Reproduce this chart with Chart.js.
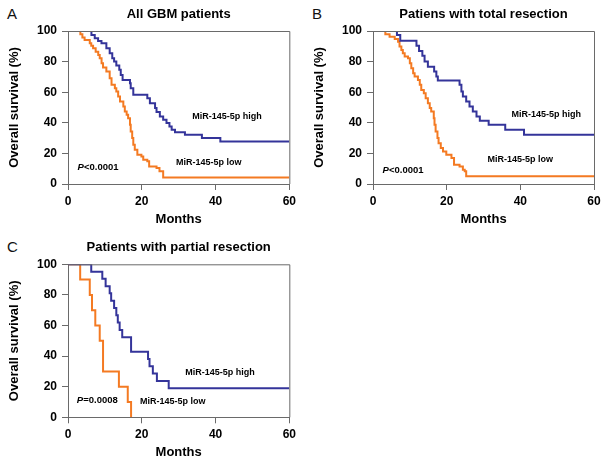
<!DOCTYPE html>
<html><head><meta charset="utf-8">
<script src="https://cdn.jsdelivr.net/npm/chart.js@4/dist/chart.umd.min.js"></script>
<style>
html,body{margin:0;padding:0;background:#fff;}
body{width:606px;height:463px;position:relative;overflow:hidden;font-family:"Liberation Sans",Arial,sans-serif;}
.c{position:absolute;}
.c canvas{display:block;}
.letter{position:absolute;font-size:15px;color:#111;line-height:1;}
</style></head>
<body>
<div class="letter" style="left:7px;top:6px">A</div>
<div class="letter" style="left:312px;top:6px">B</div>
<div class="letter" style="left:7px;top:239px">C</div>
<div class="c" style="left:0;top:0"><canvas id="cA" width="300" height="230"></canvas></div>
<div class="c" style="left:305px;top:0"><canvas id="cB" width="301" height="230"></canvas></div>
<div class="c" style="left:0;top:232px"><canvas id="cC" width="300" height="231"></canvas></div>
<script>
// ---- data ----
const monthTicks = [0, 20, 40, 60];
const survivalTicks = [0, 20, 40, 60, 80, 100];
const seriesNames = ["MiR-145-5p high", "MiR-145-5p low"];
const panelTitles = ["All GBM patients", "Patiens with total resection", "Patients with partial resection"];
const pValues = ["<0.0001", "<0.0001", "=0.0008"];

// Panel A
const aHighMonths = [0, 6.35, 7.25, 8.16, 9.07, 10.4, 11.3, 12.0, 12.5, 13.1, 13.9, 14.3, 14.8, 16.8, 17.0, 17.7, 21.5, 22.2, 23.6, 24.0, 24.9, 25.8, 26.7, 27.5, 28.1, 29.0, 31.7, 36.3, 41.3, 60];
const aHighSurv   = [100, 97.4, 95.2, 93.5, 92.0, 88.7, 85.4, 82.2, 80.0, 77.4, 74.6, 71.3, 68.0, 65.9, 62.6, 58.3, 56.1, 52.8, 49.6, 47.0, 44.1, 42.0, 39.8, 37.6, 35.4, 33.9, 32.2, 30.0, 27.8, 27.8];
const aLowMonths  = [0, 3.35, 3.9, 4.5, 5.9, 6.3, 6.8, 7.5, 8.2, 8.6, 9.1, 9.5, 10.4, 11.3, 11.8, 12.7, 13.1, 13.6, 14.1, 15.0, 15.4, 15.9, 16.3, 16.8, 17.0, 17.4, 17.7, 18.1, 18.8, 19.9, 20.4, 21.5, 22.0, 24.0, 24.8, 25.8, 60];
const aLowSurv    = [100, 97.8, 95.7, 94.1, 92.0, 90.4, 88.7, 86.5, 84.3, 82.2, 78.9, 76.1, 73.5, 69.1, 64.8, 62.6, 60.4, 57.2, 53.9, 50.7, 47.4, 45.2, 43.0, 38.7, 34.3, 30.0, 25.7, 22.4, 19.1, 18.0, 15.9, 14.8, 11.5, 10.4, 8.3, 4.3, 4.3];

// Panel B
const bHighMonths = [0, 6.5, 7.4, 11.8, 12.5, 13.4, 14.0, 14.9, 16.6, 17.2, 17.6, 23.5, 24.0, 24.4, 25.3, 26.2, 27.1, 28.1, 29.0, 31.4, 35.9, 41.0, 60];
const bHighSurv   = [100, 97.4, 93.7, 90.4, 87.0, 83.9, 80.0, 76.7, 73.5, 70.2, 67.6, 64.8, 60.4, 57.2, 53.9, 50.7, 47.4, 44.1, 41.3, 38.7, 35.4, 32.2, 32.2];
const bLowMonths  = [0, 3.35, 4.5, 5.9, 6.8, 7.2, 7.7, 8.1, 8.6, 9.5, 10.0, 10.4, 10.9, 11.3, 12.2, 12.7, 13.1, 13.8, 14.3, 14.9, 15.4, 15.8, 16.5, 16.7, 17.0, 17.5, 17.8, 18.4, 19.0, 19.9, 21.3, 22.0, 23.5, 24.4, 24.9, 25.3, 60];
const bLowSurv    = [100, 97.8, 96.3, 94.8, 93.0, 89.8, 87.6, 85.4, 83.3, 82.2, 78.9, 75.7, 72.4, 70.2, 68.0, 64.8, 61.5, 59.3, 56.1, 52.8, 49.6, 47.4, 43.0, 38.7, 34.3, 30.0, 26.7, 23.5, 21.3, 19.1, 17.0, 12.6, 11.5, 9.3, 8.3, 5.0, 5.0];

// Panel C
const cHighMonths = [0, 6.3, 9.3, 10.2, 11.3, 11.7, 12.5, 13.1, 13.5, 14.0, 14.7, 17.1, 21.7, 22.1, 23.0, 24.1, 27.3, 60];
const cHighSurv   = [100, 95.2, 90.5, 85.7, 81.0, 76.2, 71.4, 66.7, 61.9, 57.1, 52.4, 42.9, 38.1, 33.3, 28.6, 23.8, 19.0, 19.0];
const cLowMonths  = [0, 3.3, 5.9, 6.5, 7.4, 8.6, 9.5, 13.8, 16.2, 17.1];
const cLowSurv    = [100, 90, 80, 70, 60, 50, 30, 20, 10, 0];

// ---- drawing ----
const BLUE = '#34349a', ORANGE = '#f47a22', AXIS = '#6a6a6a';
const FONT = '"Liberation Sans", Arial, sans-serif';

const frameAndNotes = {
  id: 'frameAndNotes',
  afterDatasetsDraw(chart, args, opts) {
    const {ctx, chartArea: a, scales: {x, y}} = chart;
    ctx.save();
    ctx.strokeStyle = AXIS; ctx.lineWidth = 1;
    ctx.beginPath();
    ctx.moveTo(a.left, a.top + 0.5); ctx.lineTo(a.right + 0.5, a.top + 0.5); ctx.lineTo(a.right + 0.5, a.bottom);
    ctx.stroke();
    ctx.fillStyle = '#000'; ctx.textBaseline = 'middle'; ctx.textAlign = 'left';
    for (const n of opts.notes) {
      const px = x.getPixelForValue(n.m), py = y.getPixelForValue(n.s);
      if (n.italicPrefix) {
        ctx.font = 'italic bold ' + n.size + 'px ' + FONT;
        ctx.fillText(n.italicPrefix, px, py);
        const w = ctx.measureText(n.italicPrefix).width;
        ctx.font = 'bold ' + n.size + 'px ' + FONT;
        ctx.fillText(n.text, px + w, py);
      } else {
        ctx.font = 'bold ' + n.size + 'px ' + FONT;
        ctx.fillText(n.text, px, py);
      }
    }
    ctx.restore();
  }
};

function pts(ms, ss) { return ms.map((m, i) => ({x: m, y: ss[i]})); }

function makeChart(id, title, hm, hs, lm, ls, notes, L) {
  new Chart(document.getElementById(id), {
    type: 'line',
    data: {
      datasets: [
        {label: seriesNames[0], data: pts(hm, hs), borderColor: BLUE, borderWidth: 2, stepped: true, pointRadius: 0, fill: false},
        {label: seriesNames[1], data: pts(lm, ls), borderColor: ORANGE, borderWidth: 2, stepped: true, pointRadius: 0, fill: false}
      ]
    },
    options: {
      responsive: false, animation: false,
      layout: {padding: {left: 0, right: L.padRight, top: 0, bottom: 0}},
      plugins: {
        legend: {display: false}, tooltip: {enabled: false},
        title: {display: true, text: title, fullSize: false, color: '#000',
          font: {family: FONT, size: 13, weight: 'bold', lineHeight: 1.2},
          padding: {top: L.titleTop, bottom: L.titleBottom}},
        frameAndNotes: {notes}
      },
      scales: {
        x: {
          type: 'linear', min: 0, max: 60,
          afterBuildTicks: s => { s.ticks = monthTicks.map(v => ({value: v})); },
          afterFit: s => { s.height = L.xHeight; },
          grid: {display: true, drawOnChartArea: false, drawTicks: true, tickLength: 6, color: AXIS},
          border: {display: true, color: AXIS, width: 1},
          ticks: {color: '#000', padding: 4, maxRotation: 0, font: {family: FONT, size: 12, weight: 'bold'}},
          title: {display: true, text: 'Months', color: '#000', font: {family: FONT, size: 13, weight: 'bold', lineHeight: 1.2}, padding: {top: 0, bottom: 3}}
        },
        y: {
          type: 'linear', min: 0, max: 100,
          afterBuildTicks: s => { s.ticks = survivalTicks.map(v => ({value: v})); },
          afterFit: s => { s.width = 68; },
          grid: {display: true, drawOnChartArea: false, drawTicks: true, tickLength: 6, color: AXIS},
          border: {display: true, color: AXIS, width: 1},
          ticks: {color: '#000', padding: 5, font: {family: FONT, size: 12, weight: 'bold'}},
          title: {display: true, text: 'Overall survival (%)', color: '#000', font: {family: FONT, size: 13, weight: 'bold', lineHeight: 1.2}, padding: {top: 7, bottom: 0}}
        }
      }
    },
    plugins: [frameAndNotes]
  });
}

makeChart('cA', panelTitles[0], aHighMonths, aHighSurv, aLowMonths, aLowSurv, [
  {text: seriesNames[0], m: 33.7, s: 43.8, size: 9},
  {text: seriesNames[1], m: 29.3, s: 14.1, size: 9},
  {italicPrefix: 'P', text: pValues[0], m: 2.6, s: 10.6, size: 9.5}
], {padRight: 10, titleTop: 7, titleBottom: 8.4, xHeight: 46});

makeChart('cB', panelTitles[1], bHighMonths, bHighSurv, bLowMonths, bLowSurv, [
  {text: seriesNames[0], m: 37.6, s: 45.6, size: 9},
  {text: seriesNames[1], m: 31.1, s: 15.8, size: 9},
  {italicPrefix: 'P', text: pValues[1], m: 2.6, s: 8.9, size: 9.5}
], {padRight: 12, titleTop: 7, titleBottom: 8.4, xHeight: 46});

makeChart('cC', panelTitles[2], cHighMonths, cHighSurv, cLowMonths, cLowSurv, [
  {text: seriesNames[0], m: 31.8, s: 29.4, size: 9},
  {text: seriesNames[1], m: 19.5, s: 10.2, size: 9},
  {italicPrefix: 'P', text: pValues[2], m: 2.4, s: 10.8, size: 9.5}
], {padRight: 10, titleTop: 7.5, titleBottom: 9.2, xHeight: 45.7});
</script>
</body></html>
